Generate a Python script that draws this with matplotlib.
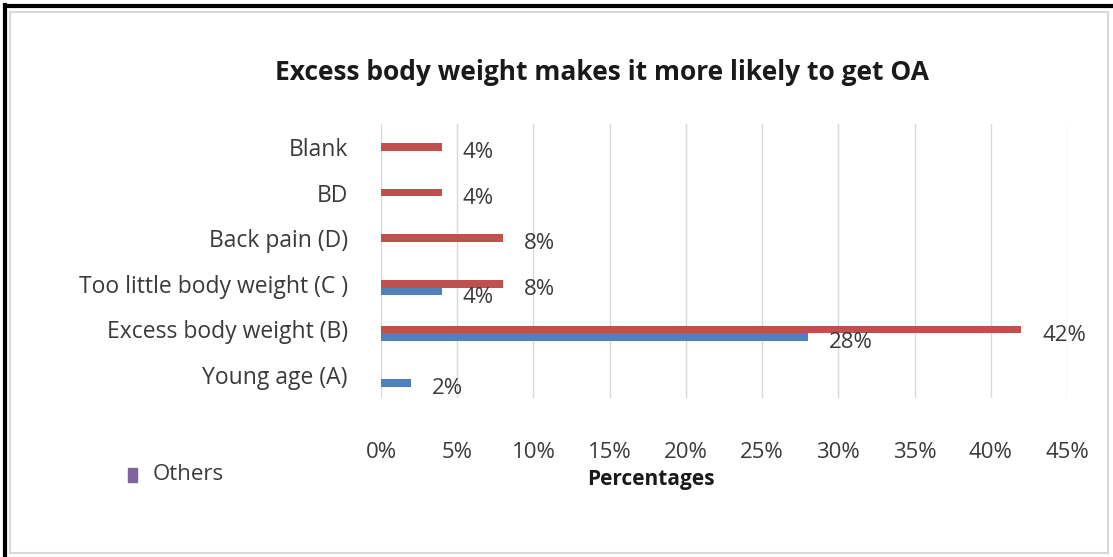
import matplotlib
matplotlib.use('agg')
import matplotlib.pyplot as plt
from matplotlib.patches import Rectangle
from matplotlib.lines import Line2D
import numpy as np

categories = ["Blank", "BD", "Back pain (D)", "Too little body weight (C )",
              "Excess body weight (B)", "Young age (A)"]
red_vals = [4, 4, 8, 8, 42, None]
blue_vals = [None, None, None, 4, 28, 2]
xticks = [0, 5, 10, 15, 20, 25, 30, 35, 40, 45]

RED = "#C0504D"
BLUE = "#4F81BD"
PURPLE = "#8064A2"
TXT = "#3a3a3a"
FS = 16

plt.rcParams['font.family'] = ['Open Sans', 'DejaVu Sans']

W, H = 1113, 557
fig = plt.figure(figsize=(W / 100, H / 100), dpi=100)
ax = fig.add_axes([381 / W, 1 - 398 / H, (1067 - 381) / W, (398 - 124) / H])

y = np.arange(len(categories))
bh = 0.17
for vals, off, col in [(red_vals, 0.0, RED), (blue_vals, bh, BLUE)]:
    for i, v in enumerate(vals):
        if v is None:
            continue
        ax.barh(y[i] + off, v, height=bh, color=col, zorder=3)
        ax.annotate(f"{v}%", (v, y[i] + off), xytext=(15, -4),
                    textcoords="offset points", ha="left", va="center",
                    fontsize=FS, color=TXT, annotation_clip=False, zorder=4)

ax.set_xlim(0, 45)
ax.set_ylim(len(categories) - 0.5, -0.5)
ax.set_xticks(xticks)
ax.set_xticklabels([f"{t}%" for t in xticks], fontsize=FS, color=TXT)
ax.set_yticks(y)
ax.set_yticklabels(categories, fontsize=16.5, color=TXT)
ax.tick_params(axis='x', length=0, pad=32)
ax.tick_params(axis='y', length=0, pad=24)
ax.grid(axis='x', color="#d9d9d9", lw=1, zorder=0)
for s in ax.spines.values():
    s.set_visible(False)

fig.text(602 / W, 1 - 73 / H, "Excess body weight makes it more likely to get OA",
         ha="center", va="center", fontsize=19, fontweight="bold", color="#1a1a1a")
fig.text(651 / W, 1 - 479 / H, "Percentages", ha="center", va="center",
         fontsize=15, fontweight="bold", color="#1a1a1a")

# legend: only "Others" is visible
fig.patches.append(Rectangle((128 / W, 1 - 482 / H), 9 / W, 14 / H,
                             transform=fig.transFigure, color=PURPLE))
fig.text(153 / W, 1 - 475 / H, "Others", ha="left", va="center",
         fontsize=FS, color=TXT)

# frames
fig.patches.append(Rectangle((10 / W, 1 - 553 / H), 1098 / W, 541 / H,
                             transform=fig.transFigure, fill=False,
                             ec="#d9d9d9", lw=1.5))
fig.lines.append(Line2D([5 / W, 5 / W], [0, 1 - 5 / H], transform=fig.transFigure,
                        color="black", lw=3))
fig.lines.append(Line2D([5 / W, 1], [1 - 6 / H, 1 - 6 / H], transform=fig.transFigure,
                        color="black", lw=3))

plt.savefig("out.png", dpi=100)
